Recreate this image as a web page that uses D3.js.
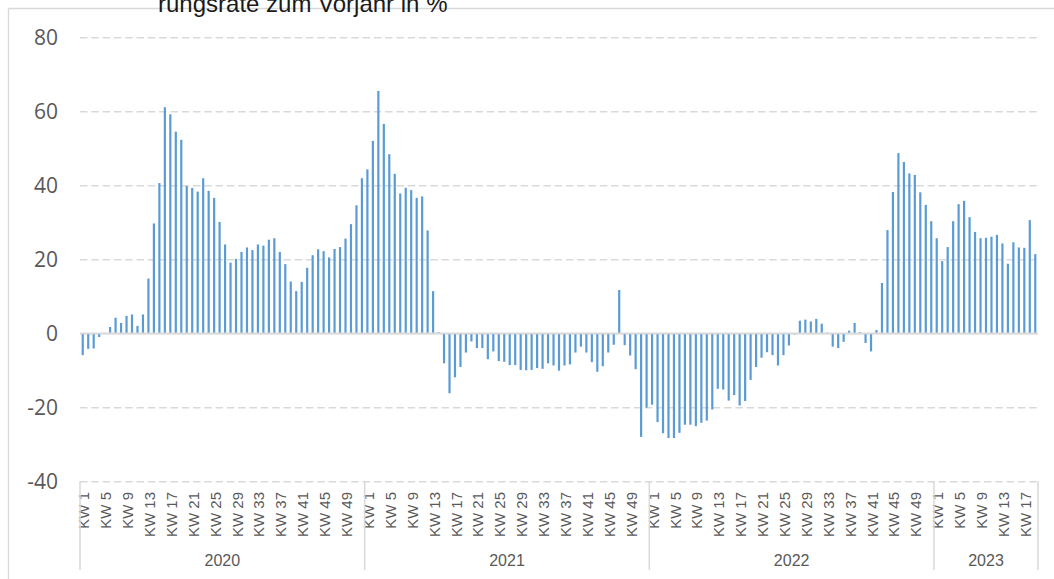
<!DOCTYPE html>
<html>
<head>
<meta charset="utf-8">
<script src="https://cdn.jsdelivr.net/npm/d3@7"></script>
<style>
  html, body { margin: 0; padding: 0; background: #ffffff; }
  svg { display: block; }
</style>
</head>
<body>
<svg id="chart" width="1054" height="579"></svg>
<script>
// ---- Data ----
const title = "rungsrate zum Vorjahr in %";
const years = ["2020", "2021", "2022", "2023"];
const values2020 = [-5.9, -4.2, -4.1, -1.0, 0.1, 1.7, 4.2, 2.8, 4.7, 5.1, 2.0, 5.1, 14.8, 29.7, 40.6, 61.1, 59.2, 54.5, 52.3, 39.8,
  39.3, 38.3, 41.9, 38.5, 36.6, 30.1, 24.0, 19.1, 20.1, 22.0, 23.2, 22.5, 24.0, 23.7, 25.3, 25.7, 22.0, 18.7, 14.0, 11.4,
  13.9, 17.7, 21.1, 22.7, 22.2, 20.5, 22.8, 23.3, 25.6, 29.5, 34.6, 41.9];
const values2021 = [44.3, 52.0, 65.5, 56.6, 48.4, 43.1, 37.8, 39.3, 38.7, 36.6, 37.0, 27.8, 11.4, 0.3, -8.1, -16.2, -11.9, -9.1, -5.2, -2.2,
  -4.0, -4.0, -7.0, -4.9, -7.5, -7.7, -8.6, -8.6, -9.9, -10.0, -9.9, -9.4, -9.6, -8.1, -8.7, -10.1, -8.7, -8.4, -5.2, -3.6,
  -5.2, -7.8, -10.4, -8.9, -5.2, -3.1, 11.7, -3.2, -6.0, -9.7, -28.0, -20.1];
const values2022 = [-19.3, -24.0, -27.0, -28.3, -28.3, -26.9, -24.7, -24.7, -25.1, -24.2, -23.6, -20.6, -15.0, -15.2, -18.2, -16.7, -19.5, -18.3, -12.6, -9.1,
  -6.6, -5.1, -5.9, -8.7, -5.9, -3.3, -0.3, 3.4, 3.7, 3.2, 3.9, 2.6, 0.2, -3.6, -4.0, -2.3, 0.7, 2.8, 0.3, -2.6,
  -4.9, 0.9, 13.6, 27.9, 38.2, 48.7, 46.3, 43.2, 42.8, 38.1, 34.7, 30.3];
const values2023 = [25.7, 19.5, 23.3, 30.3, 34.9, 35.8, 31.4, 27.4, 25.7, 25.8, 26.1, 26.6, 24.3, 18.8, 24.6, 23.2, 23.1, 30.6, 21.4];
const seriesByYear = [values2020, values2021, values2022, values2023];
const yTicks = [-40, -20, 0, 20, 40, 60, 80];
const weekLabelStep = 4; // KW 1, KW 5, KW 9, ...

// ---- Build categories ----
const rows = [];
seriesByYear.forEach((vals, yi) => {
  vals.forEach((v, wi) => {
    rows.push({ key: years[yi] + "-" + (wi + 1), year: years[yi], week: wi + 1, value: v });
  });
});

// ---- Layout ----
const svg = d3.select("#chart");
const W = 1054, H = 579;
const plot = { left: 80, right: 1038, top: 37.3, bottom: 481.3 };

const x = d3.scaleBand()
  .domain(rows.map(d => d.key))
  .range([plot.left, plot.right])
  .paddingInner(0.6)
  .paddingOuter(0.3);

const y = d3.scaleLinear().domain([-40, 80]).range([plot.bottom, plot.top]);

const gridColor = "#d9d9d9";
const textColor = "#595959";

// chart border (only top and left visible)
svg.append("line").attr("x1", 8.5).attr("x2", W + 5).attr("y1", 8.5).attr("y2", 8.5)
  .attr("stroke", gridColor).attr("stroke-width", 1.3);
svg.append("line").attr("x1", 8.5).attr("x2", 8.5).attr("y1", 8.5).attr("y2", H + 5)
  .attr("stroke", gridColor).attr("stroke-width", 1.3);

// title (clipped tail, as in the reference)
svg.append("text")
  .attr("x", 158).attr("y", 12)
  .attr("font-family", "'Liberation Sans', Arial, sans-serif")
  .attr("font-size", 24)
  .attr("fill", "#1a1a1a")
  .text(title);

// gridlines + y tick labels
const yAxis = d3.axisLeft(y).tickValues(yTicks).tickSize(0).tickPadding(0).tickFormat(d => String(d));
const gy = svg.append("g").attr("transform", `translate(${plot.left},0)`).call(yAxis);
gy.select(".domain").remove();
gy.selectAll(".tick line")
  .attr("x2", plot.right - plot.left)
  .attr("stroke", gridColor)
  .attr("stroke-width", 1.5)
  .attr("stroke-dasharray", d => d === 0 ? null : "7.5,3.8");
gy.selectAll(".tick text")
  .attr("x", -22)
  .attr("dy", "0.36em")
  .attr("font-family", "'Open Sans', sans-serif")
  .attr("font-size", 21)
  .attr("fill", textColor)
  .attr("text-anchor", "end");

// bars
svg.append("g").selectAll("rect").data(rows).join("rect")
  .attr("x", d => x(d.key))
  .attr("width", x.bandwidth())
  .attr("y", d => y(Math.max(0, d.value)))
  .attr("height", d => Math.abs(y(d.value) - y(0)))
  .attr("fill", "#5b9bd5");

// zero line on top
svg.append("line")
  .attr("x1", plot.left).attr("x2", plot.right)
  .attr("y1", y(0)).attr("y2", y(0))
  .attr("stroke", gridColor).attr("stroke-width", 1.8);

// category axis: week labels
const labelRows = rows.filter(d => (d.week - 1) % weekLabelStep === 0);
svg.append("g").selectAll("text").data(labelRows).join("text")
  .attr("transform", d => `translate(${x(d.key) + x.bandwidth() / 2 + 1.3},492) rotate(-90)`)
  .attr("text-anchor", "end")
  .attr("dy", "0.35em")
  .attr("font-family", "'Liberation Sans', Arial, sans-serif")
  .attr("font-size", 15)
  .attr("fill", textColor)
  .text(d => "KW " + d.week);

// year group separators and labels
const step = x.step();
const yearBounds = years.map((yr, i) => {
  const first = rows.find(d => d.year === yr);
  const n = seriesByYear[i].length;
  const start = x(first.key) - x.paddingInner() * step / 2;
  return { year: yr, start: start, end: start + n * step };
});
const sepX = yearBounds.map(b => b.start).concat([plot.right]);
svg.append("g").selectAll("line").data(sepX).join("line")
  .attr("x1", d => d).attr("x2", d => d)
  .attr("y1", plot.bottom).attr("y2", 570)
  .attr("stroke", gridColor).attr("stroke-width", 1.5);

svg.append("g").selectAll("text").data(yearBounds).join("text")
  .attr("x", d => (d.start + Math.min(d.end, plot.right)) / 2)
  .attr("y", 566)
  .attr("text-anchor", "middle")
  .attr("font-family", "'Liberation Sans', Arial, sans-serif")
  .attr("font-size", 16)
  .attr("fill", textColor)
  .text(d => d.year);
</script>
</body>
</html>
